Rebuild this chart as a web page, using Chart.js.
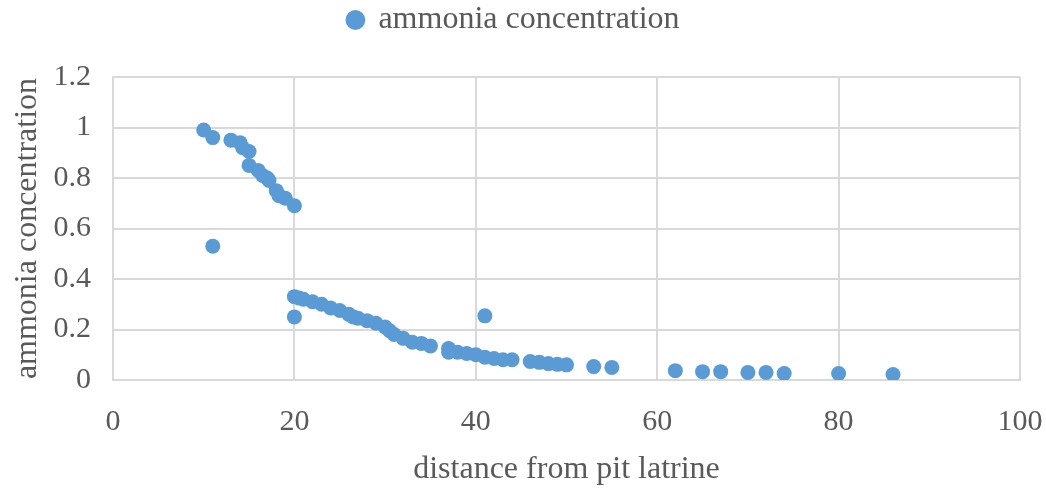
<!DOCTYPE html>
<html>
<head>
<meta charset="utf-8">
<script src="https://cdn.jsdelivr.net/npm/chart.js@4"></script>
<style>
    html, body { margin: 0; padding: 0; background: #fff; }
    #wrap { width: 1046px; height: 489px; }
</style>
</head>
<body>
<div id="wrap"><canvas id="chart" width="1046" height="489"></canvas></div>
<script>
// distance from pit latrine (x) and ammonia concentration (y)
const distance = [
    10, 11, 11, 13, 14, 14.3, 15, 15, 16, 16.5, 17, 17.2, 18, 18.3, 19, 20,
    20, 20, 20.5, 21, 22, 23, 24, 25, 26, 26.5, 27, 28, 29, 30, 30.5, 31, 32, 33, 34, 35,
    37, 37, 38, 39, 40, 41, 41, 42, 43, 44, 46, 47, 48, 49, 50, 53, 55,
    62, 65, 67, 70, 72, 74, 80, 86
]
const concentration = [
    0.99, 0.96, 0.53, 0.95, 0.94, 0.92, 0.905, 0.85, 0.83, 0.81, 0.80, 0.79, 0.75, 0.73, 0.72, 0.69,
    0.33, 0.25, 0.325, 0.32, 0.31, 0.30, 0.285, 0.275, 0.26, 0.25, 0.245, 0.235, 0.225, 0.21, 0.195, 0.18, 0.165, 0.15, 0.145, 0.135,
    0.125, 0.11, 0.11, 0.105, 0.10, 0.09, 0.254, 0.085, 0.08, 0.08, 0.073, 0.07, 0.065, 0.062, 0.06, 0.053, 0.05,
    0.037, 0.033, 0.033, 0.03, 0.03, 0.026, 0.026, 0.022
]
const seriesName = 'ammonia concentration'
const xTitle = 'distance from pit latrine'
const yTitle = 'ammonia concentration'

const blue = '#5b9bd5'
const grey = '#595959'
const gridGrey = '#d9d9d9'
const family = "'Liberation Serif', 'Times New Roman', serif"
const tickFont = { family, size: 30 }
const titleFont = { family, size: 32 }

const points = distance.map((d, i) => ({ x: d, y: concentration[i] }))

// legend keeps its text near the top but reserves room down to the plot
const legendHeight = {
    id: 'legendHeight',
    beforeLayout(chart) {
        const legend = chart.legend
        if (!legend || legend._patched) return
        const fit = legend.fit.bind(legend)
        legend.fit = function () {
            fit()
            this.height = 77
        }
        legend._patched = true
    }
}

new Chart(document.getElementById('chart'), {
    type: 'scatter',
    data: {
        datasets: [{
            label: seriesName,
            data: points,
            backgroundColor: blue,
            borderColor: blue,
            pointRadius: 7.5,
            pointHoverRadius: 7.5,
            borderWidth: 0
        }]
    },
    options: {
        responsive: false,
        animation: false,
        layout: { padding: { left: 8, right: 26, top: 0, bottom: 0 } },
        plugins: {
            tooltip: { enabled: false },
            legend: {
                position: 'top',
                labels: {
                    usePointStyle: true,
                    pointStyle: 'circle',
                    boxWidth: 14,
                    boxHeight: 14,
                    color: grey,
                    font: titleFont,
                    padding: 4
                }
            }
        },
        scales: {
            x: {
                type: 'linear',
                min: 0,
                max: 100,
                ticks: { stepSize: 20, color: grey, font: tickFont, padding: 24, maxRotation: 0 },
                grid: { color: gridGrey, lineWidth: 2, drawTicks: false },
                border: { color: gridGrey, width: 2 },
                title: { display: true, text: xTitle, color: grey, font: titleFont, padding: { top: 6, bottom: 0 } },
                afterFit: s => {
                    s.height = 109
                    s.paddingLeft = 0
                    s.paddingRight = 0
                }
            },
            y: {
                min: 0,
                max: 1.2,
                ticks: { stepSize: 0.2, color: grey, font: tickFont, padding: 22,
                    callback: v => Math.round(v * 10) / 10 },
                grid: { color: gridGrey, lineWidth: 2, drawTicks: false },
                border: { color: gridGrey, width: 2 },
                title: { display: true, text: yTitle, color: grey, font: titleFont, padding: 0 },
                afterFit: s => { s.width = 105 }
            }
        }
    },
    plugins: [legendHeight]
})
</script>
</body>
</html>
